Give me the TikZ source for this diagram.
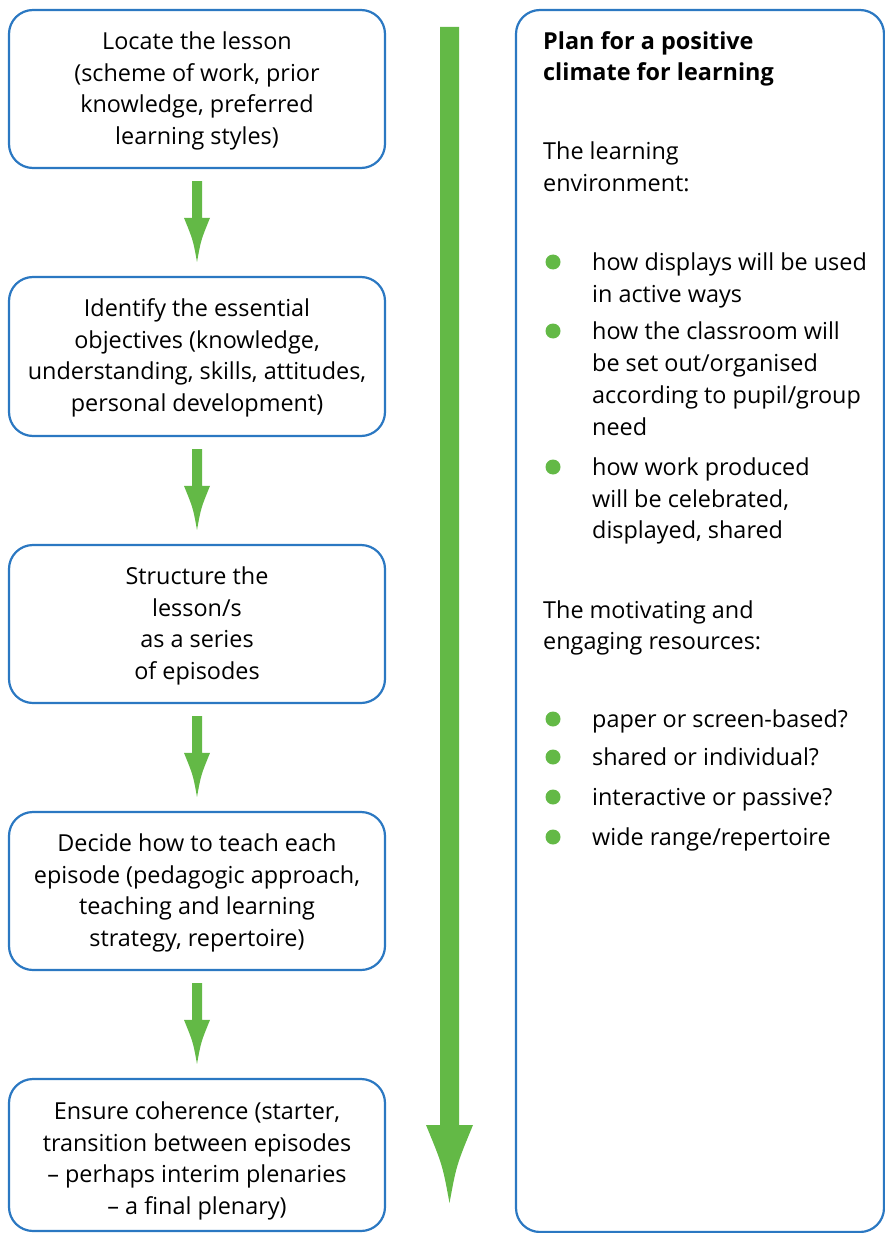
\documentclass[tikz,border=0pt]{standalone}
\usepackage{fontspec}
\setmainfont{Open Sans}
\usetikzlibrary{calc}
\definecolor{boxblue}{HTML}{2B78C2}
\definecolor{arrgreen}{HTML}{63B946}
\newcommand\fsz{\fontsize{23.4}{31.6}\selectfont}
\begin{document}
\begin{tikzpicture}[x=1pt,y=-1pt,
  txt/.style={font=\fsz, inner sep=0pt},
  stepbox/.style={draw=boxblue, line width=2.2pt, rounded corners=24pt, minimum width=376pt, inner sep=0pt, align=center, font=\fsz},
  rline/.style={txt, anchor=base west},
  bul/.style={fill=arrgreen}]
\useasboundingbox (0,0) rectangle (885,1233);
% left boxes
\node[stepbox, minimum height=158pt] (b1) at (197,89) {};
\node[txt, align=center] (t1) at (197,91) {Locate the lesson\\(scheme of work, prior\\knowledge, preferred\\learning styles)};
\node[stepbox, minimum height=159pt] (b2) at (197,356.5) {};
\node[txt, align=center] (t2) at (197,358) {Identify the essential\\objectives (knowledge,\\understanding, skills, attitudes,\\personal development)};
\node[stepbox, minimum height=158pt] (b3) at (197,624) {};
\node[txt, align=center] (t3) at (197,626) {Structure the\\lesson/s\\as a series\\of episodes};
\node[stepbox, minimum height=158pt] (b4) at (197,891) {};
\node[txt, align=center] (t4) at (197,893) {Decide how to teach each\\episode (pedagogic approach,\\teaching and learning\\strategy, repertoire)};
\node[stepbox, minimum height=152pt] (b5) at (197,1155) {};
\node[txt, align=center] (t5) at (197,1161) {Ensure coherence (starter,\\transition between episodes\\– perhaps interim plenaries\\– a final plenary)};
% small arrows
\foreach \a/\b in {b1/b2,b2/b3,b3/b4,b4/b5}{
  \coordinate (top) at ($(\a.south)+(0,12)$);
  \coordinate (tip) at ($(\b.north)+(0,-14)$);
  \fill[arrgreen] ($(top)+(-5,0)$) -- ($(top)+(5,0)$) -- ($(tip)+(5,-44)$) -- ($(tip)+(13,-44)$)
    .. controls ($(tip)+(4,-22)$) .. (tip)
    .. controls ($(tip)+(-4,-22)$) .. ($(tip)+(-13,-44)$) -- ($(tip)+(-5,-44)$) -- cycle;
}
% big arrow
\coordinate (btop) at (449.5,27);
\coordinate (btip) at (449.5,1203);
\fill[arrgreen] ($(btop)+(-9.5,0)$) -- ($(btop)+(9.5,0)$) -- ($(btip)+(9.5,-78)$) -- ($(btip)+(23.5,-78)$)
  .. controls ($(btip)+(7,-38)$) .. (btip)
  .. controls ($(btip)+(-7,-38)$) .. ($(btip)+(-23.5,-78)$) -- ($(btip)+(-9.5,-78)$) -- cycle;
% right box
\node[draw=boxblue, line width=2.2pt, rounded corners=24pt, minimum width=368pt, minimum height=1222pt, inner sep=0pt] (r) at (700,621) {};
\node[rline, font=\fsz\bfseries] (h1) at (543,50) {Plan for a positive};
\node[rline, font=\fsz\bfseries] (h2) at (543,81) {climate for learning};
\node[rline] (e1) at (543,160) {The learning};
\node[rline] (e2) at (543,192) {environment:};
\node[rline] (l1) at (592,270) {how displays will be used};
\node[rline] (l2) at (592,302) {in active ways};
\node[rline] (l3) at (592,339) {how the classroom will};
\node[rline] (l4) at (592,371) {be set out/organised};
\node[rline] (l5) at (592,403) {according to pupil/group};
\node[rline] (l6) at (592,435) {need};
\node[rline] (l7) at (592,475) {how work produced};
\node[rline] (l8) at (592,507) {will be celebrated,};
\node[rline] (l9) at (592,538) {displayed, shared};
\node[rline] (m1) at (543,618) {The motivating and};
\node[rline] (m2) at (543,649) {engaging resources:};
\node[rline] (p1) at (592,727) {paper or screen-based?};
\node[rline] (p2) at (592,765) {shared or individual?};
\node[rline] (p3) at (592,805) {interactive or passive?};
\node[rline] (p4) at (592,845) {wide range/repertoire};
\foreach \y in {270,339,475,727,765,805,845}{
  \fill[bul] (553,\y-8) circle (7.5);
}
\end{tikzpicture}
\end{document}
